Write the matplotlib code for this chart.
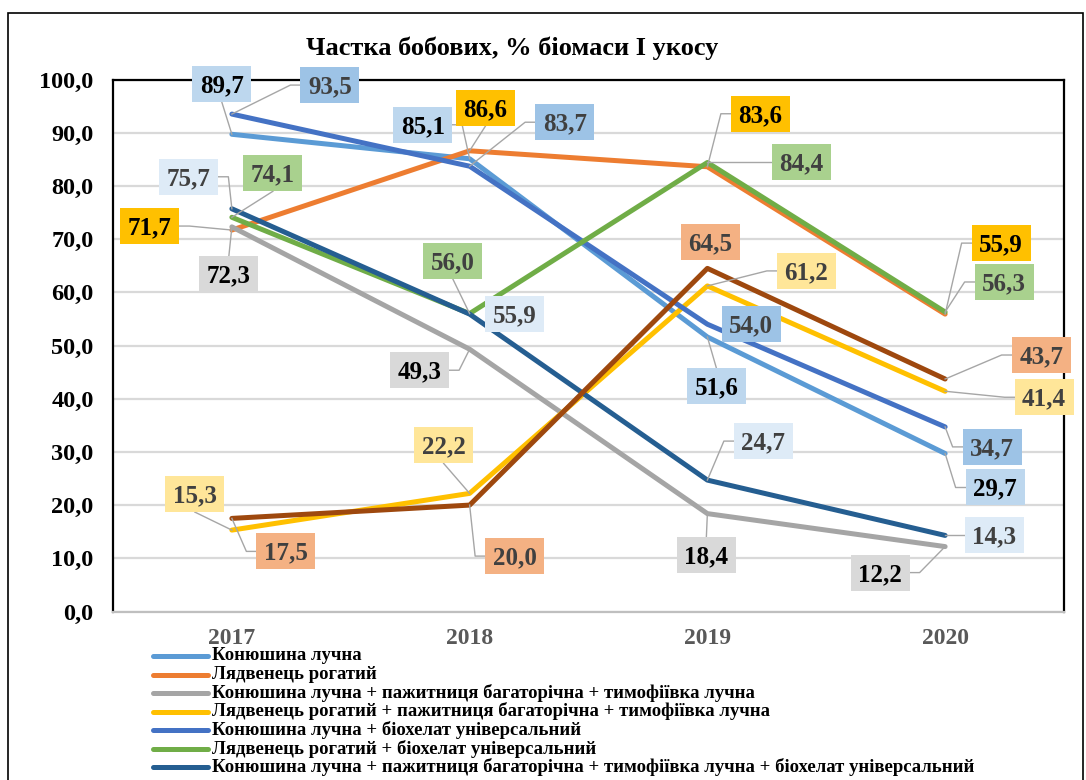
import matplotlib
matplotlib.use("Agg")
import matplotlib.pyplot as plt
from matplotlib.patches import Rectangle
from matplotlib.lines import Line2D
from matplotlib.transforms import IdentityTransform

# ---------------- data ----------------
years = ["2017", "2018", "2019", "2020"]
title = "Частка бобових, % біомаси І укосу"

names = [
    "Конюшина лучна",
    "Лядвенець рогатий",
    "Конюшина лучна + пажитниця багаторічна + тимофіївка лучна",
    "Лядвенець рогатий + пажитниця багаторічна + тимофіївка лучна",
    "Конюшина лучна + біохелат універсальний",
    "Лядвенець рогатий + біохелат універсальний",
    "Конюшина лучна + пажитниця багаторічна + тимофіївка лучна + біохелат універсальний",
    "Лядвенець рогатий + пажитниця багаторічна + тимофіївка лучна + біохелат універсальний",
]
kl = [89.7, 85.1, 51.6, 29.7]
lr = [71.7, 86.6, 83.6, 55.9]
kl_mix = [72.3, 49.3, 18.4, 12.2]
lr_mix = [15.3, 22.2, 61.2, 41.4]
kl_bio = [93.5, 83.7, 54.0, 34.7]
lr_bio = [74.1, 56.0, 84.4, 56.3]
kl_mix_bio = [75.7, 55.9, 24.7, 14.3]
lr_mix_bio = [17.5, 20.0, 64.5, 43.7]
series = [kl, lr, kl_mix, lr_mix, kl_bio, lr_bio, kl_mix_bio, lr_mix_bio]
y_ticks = [0, 10, 20, 30, 40, 50, 60, 70, 80, 90, 100]

# ---------------- styles ----------------
line_colors = ["#5B9BD5", "#ED7D31", "#A5A5A5", "#FFC000",
               "#4472C4", "#70AD47", "#255E91", "#9E480E"]
box_colors = ["#BDD7EE", "#FFC000", "#D9D9D9", "#FFE699",
              "#9DC3E6", "#A9D18E", "#DEEBF7", "#F4B183"]
text_colors = ["#000000", "#000000", "#000000", "#404040",
               "#404040", "#404040", "#404040", "#404040"]
# label offsets in pixels (dx right, dy up) and leader anchor side
label_pos = [
    [(-10, 50, "B"), (-47, 34, "R"), (9, -49, "T"), (50, -34, "L")],
    [(-82, 4, "R"), (16, 43, "B"), (53, 53, "L"), (56, 71, "L")],
    [(-3, -47, "T"), (-50, -21, "R"), (-1, -41, "T"), (-65, -26, "R")],
    [(-37, 36, "B"), (-26, 48, "B"), (99, 15, "L"), (99, -6, "L")],
    [(98, 29, "L"), (95, 44, "L"), (44, 0, None), (47, -20, "L")],
    [(41, 44, "B"), (-17, 53, "B"), (94, 0, "L"), (59, 30, "L")],
    [(-43, 32, "R"), (45, 0, None), (56, 39, "L"), (49, 0, "L")],
    [(54, -33, "L"), (45, -51, "L"), (3, 26, None), (96, 24, "L")],
]
BOX_W, BOX_H = 59, 36
FONT = "Liberation Serif"

W, H = 1086, 780
fig = plt.figure(figsize=(W / 100, H / 100), dpi=100)
fig.patch.set_facecolor("white")

# outer chart border
fig.add_artist(Rectangle((8 / W, -0.02), (1083 - 8) / W, (H - 13) / H + 0.02,
                         transform=fig.transFigure, fill=False,
                         edgecolor="black", lw=1.2, clip_on=False))

ax = fig.add_axes([113 / W, (H - 611.5) / H, (1064 - 113) / W, (611.5 - 79.5) / H])
x = list(range(len(years)))
ax.set_xlim(-0.5, len(years) - 0.5)
ax.set_ylim(0, 100)
ax.set_yticks(y_ticks)
ax.set_yticklabels([f"{v:.1f}".replace(".", ",") for v in y_ticks],
                   fontfamily=FONT, fontweight="bold", fontsize=17.5, color="black")
ax.set_xticks(x)
ax.set_xticklabels(years, fontfamily=FONT, fontweight="bold", fontsize=17, color="#595959")
ax.tick_params(axis="y", length=0, pad=14)
ax.tick_params(axis="x", length=0, pad=12)
ax.grid(axis="y", color="#D9D9D9", lw=1.6)
ax.set_axisbelow(True)
for s in ["left", "top", "right"]:
    ax.spines[s].set_color("black")
    ax.spines[s].set_linewidth(1.6)
ax.spines["bottom"].set_color("#BFBFBF")
ax.spines["bottom"].set_linewidth(1.6)

for vals, c in zip(series, line_colors):
    ax.plot(x, vals, color=c, lw=3.6, solid_joinstyle="round", solid_capstyle="round")

# data labels with leader lines (pixel geometry)
ident = IdentityTransform()
for si, vals in enumerate(series):
    for i, v in enumerate(vals):
        px, py = ax.transData.transform((i, v))
        dx, dy, anc = label_pos[si][i]
        cx, cy = px + dx, py + dy
        x0, x1 = cx - BOX_W / 2, cx + BOX_W / 2
        y0, y1 = cy - BOX_H / 2, cy + BOX_H / 2
        if anc == "L":
            xs, ys = [x0, x0 - 10, px], [cy, cy, py]
        elif anc == "R":
            xs, ys = [x1, x1 + 10, px], [cy, cy, py]
        elif anc == "B":
            xs, ys = [cx, px], [y0, py]
        elif anc == "T":
            xs, ys = [cx, px], [y1, py]
        else:
            xs, ys = None, None
        if xs is not None:
            fig.add_artist(Line2D(xs, ys, transform=ident, color="#A6A6A6", lw=1.0, zorder=3))
        fig.add_artist(Rectangle((x0, y0), BOX_W, BOX_H, transform=ident,
                                 facecolor=box_colors[si], edgecolor="none", zorder=4))
        fig.text(cx, cy - 8.3, f"{v:.1f}".replace(".", ","), transform=ident,
                 ha="center", va="baseline", fontfamily=FONT, fontweight="bold",
                 fontsize=18, color=text_colors[si], zorder=5)

# title
fig.text(512 / W, 1 - 48 / H, title, ha="center", va="center",
         fontfamily=FONT, fontweight="bold", fontsize=19, color="black")

# legend (first seven entries visible within the canvas)
row_y = [656, 674.5, 693, 711.5, 730, 748.5, 767]
for k, yy in enumerate(row_y):
    fy = 1 - yy / H
    fig.add_artist(Line2D([153 / W, 208 / W], [fy, fy], transform=fig.transFigure,
                          color=line_colors[k], lw=3.6, solid_capstyle="round"))
    fig.text(212 / W, fy, names[k], ha="left", va="center", fontfamily=FONT,
             fontweight="bold", fontsize=13.5, color="black")

fig.savefig("out.png", dpi=100)
